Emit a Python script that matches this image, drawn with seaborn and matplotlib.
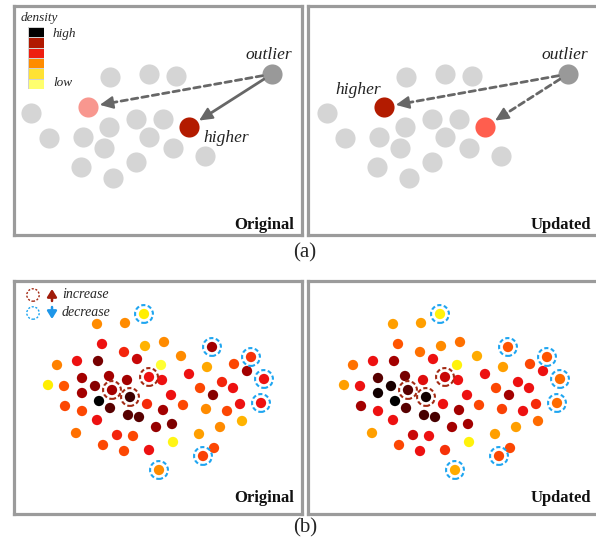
import numpy as np
import matplotlib
matplotlib.use('Agg')
import matplotlib.pyplot as plt
from matplotlib.colors import LinearSegmentedColormap, ListedColormap
import seaborn as sns

# ---- (a) toy embedding, positions in panel pixels (y grows downwards)
gray_x = [98, 137, 164, 19, 37, 71, 97, 124, 151, 92, 137, 161, 193, 69, 124, 101]
gray_y = [72, 69, 71, 108, 133, 132, 122, 114, 114, 143, 132, 143, 151, 162, 157, 173]
outlier_xy = (260, 69)
near_xy = (76, 102)    # point on the left of the cloud
far_xy = (177, 122)    # point close to the outlier
near_color = {'Original': '#F8978F', 'Updated': '#B31B00'}
far_color = {'Original': '#B31B00', 'Updated': '#FF5E4E'}

# density legend, high -> low
swatch_colors = ['#000000', '#B01800', '#EE1E10', '#FF8C00', '#FFE234', '#FFFF6E']

# ---- (b) projection coloured by density
pts_x = [85, 113, 132, 90, 112, 133, 152, 125, 169, 200, 195, 149, 45, 65, 86, 239, 222, 235, 252, 36,
         52, 70, 83, 97, 115, 100, 137, 150, 177, 188, 210, 221, 70, 87, 118, 159, 201, 53, 70, 98,
         135, 171, 194, 215, 228, 249, 85, 116, 127, 151, 144, 160, 230, 208, 64, 105, 121, 187, 161, 91,
         112, 137, 202, 191, 147]
pts_y = [44, 43, 34, 64, 72, 66, 62, 79, 76, 67, 87, 85, 85, 81, 81, 77, 84, 91, 99, 105,
         106, 98, 106, 96, 100, 110, 97, 100, 94, 108, 102, 108, 113, 121, 117, 115, 115, 126, 131, 128,
         124, 125, 129, 131, 124, 123, 140, 135, 137, 130, 147, 144, 141, 147, 153, 155, 156, 154, 162, 165,
         171, 170, 168, 176, 190]
dens_original = [3, 3, 1, 5, 4.7, 2, 3, 5.5, 3, 6, 2.3, 0, 3.2, 5, 6.6, 4.5, 4.2, 6, 5, 1,
                 4, 6, 6.4, 6, 6, 6, 5, 5, 5, 4.2, 4.7, 5, 6, 8, 7.3, 5, 6.4, 4.2, 4.2, 7,
                 4.6, 4.2, 3, 4.2, 5, 5, 5, 7, 7, 6, 6.2, 6.5, 2, 3, 3.5, 4.7, 4.2, 2.5, 0.6, 4.2,
                 4.2, 5, 4.2, 4.3, 3]
dens_updated = [2.5, 2.5, 0.8, 4, 3.5, 3, 3.5, 5, 2.2, 4, 2.5, 0.8, 3.5, 5, 6, 4, 4.2, 5, 3.6, 2.5,
                5, 7, 7.7, 6.6, 5.2, 7, 5.5, 5, 5, 4.2, 5, 5, 7.8, 8, 7.8, 5, 6, 6, 5, 7,
                5, 4.2, 4.3, 5, 4.6, 3.6, 5, 7.2, 7.2, 6, 6, 6, 3.6, 2.5, 2.5, 5.5, 5, 2.5, 0.8, 4.2,
                5, 4.5, 4.2, 4.2, 2.2]
increase_idx = [25, 26, 34]
decrease_idx = [2, 9, 15, 18, 45, 63, 64]
level_colors = ['#FFFF33', '#FFEE00', '#FFB300', '#FF8C00', '#FF5500', '#EE1111', '#A50000', '#5A0000', '#000000']

arrow_gray = '#676767'
frame_gray = '#9B9B9B'
blue = '#1EA5F0'
brown = '#A32A14'

sns.set_theme(style='white')
plt.rcParams['font.family'] = ['Liberation Serif', 'DejaVu Serif']

W, H = 596, 542
fig = plt.figure(figsize=(W / 100, H / 100), dpi=100)


def px_axes(x0, y0, x1, y1):
    return fig.add_axes([x0 / W, 1 - y1 / H, (x1 - x0) / W, (y1 - y0) / H])


def frame(ax, box, ox, oy):
    x0, y0, x1, y1 = box
    ax.set_xlim(x0 - ox, x1 - ox)
    ax.set_ylim(y1 - oy, y0 - oy)
    ax.set_xticks([])
    ax.set_yticks([])
    ax.set_xlabel('')
    ax.set_ylabel('')
    for s in ax.spines.values():
        s.set_visible(True)
        s.set_color(frame_gray)
        s.set_linewidth(2.3)


def arrow(ax, start, end, dashed, r=10, head=11):
    sx, sy = start
    ex, ey = end
    d = np.hypot(sx - ex, sy - ey)
    ux, uy = (sx - ex) / d, (sy - ey) / d
    hx, hy = ex + ux * (r + 2 + head), ey + uy * (r + 2 + head)
    ls = (0, (2.3, 1.5)) if dashed else '-'
    ax.annotate('', xy=(hx, hy), xytext=start,
                arrowprops=dict(arrowstyle='-', color=arrow_gray, lw=2, ls=ls, shrinkA=7, shrinkB=0))
    ax.annotate('', xy=end, xytext=(hx + ux * 2, hy + uy * 2),
                arrowprops=dict(arrowstyle='-|>,head_length=0.8,head_width=0.38', color=arrow_gray,
                                lw=1.5, shrinkA=0, shrinkB=(r + 2) * 0.72, mutation_scale=10))


# ---------- (a)
boxes_a = {'Original': ((13.5, 6, 301.5, 235), 12), 'Updated': ((308, 6, 598, 235), 308)}
for name, (box, ox) in boxes_a.items():
    ax = px_axes(*box)
    sns.scatterplot(x=gray_x, y=gray_y, color='#D5D5D5', s=210, linewidth=0, ax=ax)
    sns.scatterplot(x=[near_xy[0]], y=[near_xy[1]], color=near_color[name], s=210, linewidth=0, ax=ax)
    sns.scatterplot(x=[far_xy[0]], y=[far_xy[1]], color=far_color[name], s=210, linewidth=0, ax=ax)
    sns.scatterplot(x=[outlier_xy[0]], y=[outlier_xy[1]], color='#999999', s=210, linewidth=0, ax=ax)
    arrow(ax, outlier_xy, near_xy, dashed=True)
    arrow(ax, outlier_xy, far_xy, dashed=(name == 'Updated'))
    ax.annotate('outlier', xy=outlier_xy, xytext=(-3, 19), textcoords='offset pixels',
                ha='center', va='center', fontsize=12.5, style='italic', color='#222222')
    if name == 'Original':
        ax.annotate('higher', xy=far_xy, xytext=(37, -11), textcoords='offset pixels',
                    ha='center', va='center', fontsize=12.5, style='italic', color='#222222')
    else:
        ax.annotate('higher', xy=near_xy, xytext=(-26, 17), textcoords='offset pixels',
                    ha='center', va='center', fontsize=12.5, style='italic', color='#222222')
    ax.text(0.975, 0.026, name, transform=ax.transAxes, ha='right', va='baseline',
            fontsize=12, fontweight='bold', color='#111111')
    frame(ax, box, ox, 5)

# density legend
fig.text(21 / W, 1 - 18 / H, 'density', ha='left', va='center', fontsize=9.5, style='italic')
cax = px_axes(28, 27, 44, 89)
sns.heatmap(np.arange(len(swatch_colors)).reshape(-1, 1), cmap=ListedColormap(swatch_colors),
            cbar=False, linewidths=0.6, linecolor='#d0d0d0', xticklabels=False, yticklabels=False, ax=cax)
fig.text(53 / W, 1 - 34 / H, 'high', ha='left', va='center', fontsize=9.5, style='italic')
fig.text(53 / W, 1 - 83 / H, 'low', ha='left', va='center', fontsize=9.5, style='italic')

# ---------- (b)
cmap = LinearSegmentedColormap.from_list('density', level_colors)
boxes_b = {'Original': ((13.5, 281, 301.5, 514), 12, dens_original),
           'Updated': ((308, 281, 598, 514), 308, dens_updated)}
px_arr = np.array(pts_x)
py_arr = np.array(pts_y)
for name, (box, ox, dens) in boxes_b.items():
    ax = px_axes(*box)
    sns.scatterplot(x=pts_x, y=pts_y, hue=dens, palette=cmap, hue_norm=(0, 8), s=55,
                    linewidth=0, legend=False, ax=ax)
    ax.scatter(px_arr[decrease_idx], py_arr[decrease_idx], s=165, facecolors='none',
               edgecolors=blue, linewidths=1.5, linestyle=(0, (2, 1.2)))
    ax.scatter(px_arr[increase_idx], py_arr[increase_idx], s=165, facecolors='none',
               edgecolors=brown, linewidths=1.5, linestyle=(0, (2, 1.2)))
    ax.text(0.975, 0.05, name, transform=ax.transAxes, ha='right', va='baseline',
            fontsize=12, fontweight='bold', color='#111111')
    if name == 'Original':
        ax.scatter([21, 21], [15, 33], s=80, facecolors='none', edgecolors=[brown, blue],
                   linewidths=1, linestyle=(0, (1.5, 1.2)))
        ax.annotate('', xy=(40, 9), xytext=(40, 21),
                    arrowprops=dict(arrowstyle='-|>,head_length=0.45,head_width=0.28', color='#A01C0A',
                                    lw=1.8, shrinkA=0, shrinkB=0, mutation_scale=10))
        ax.annotate('', xy=(40, 39), xytext=(40, 27),
                    arrowprops=dict(arrowstyle='-|>,head_length=0.45,head_width=0.28', color='#1E96E8',
                                    lw=1.8, shrinkA=0, shrinkB=0, mutation_scale=10))
        ax.text(50, 15, 'increase', ha='left', va='center', fontsize=10, style='italic')
        ax.text(50, 33, 'decrease', ha='left', va='center', fontsize=10, style='italic')
    frame(ax, box, ox, 280)

fig.text(305 / W, 1 - 253 / H, '(a)', ha='center', va='center', fontsize=15)
fig.text(305 / W, 1 - 528 / H, '(b)', ha='center', va='center', fontsize=15)

fig.savefig('out.png', dpi=100)
